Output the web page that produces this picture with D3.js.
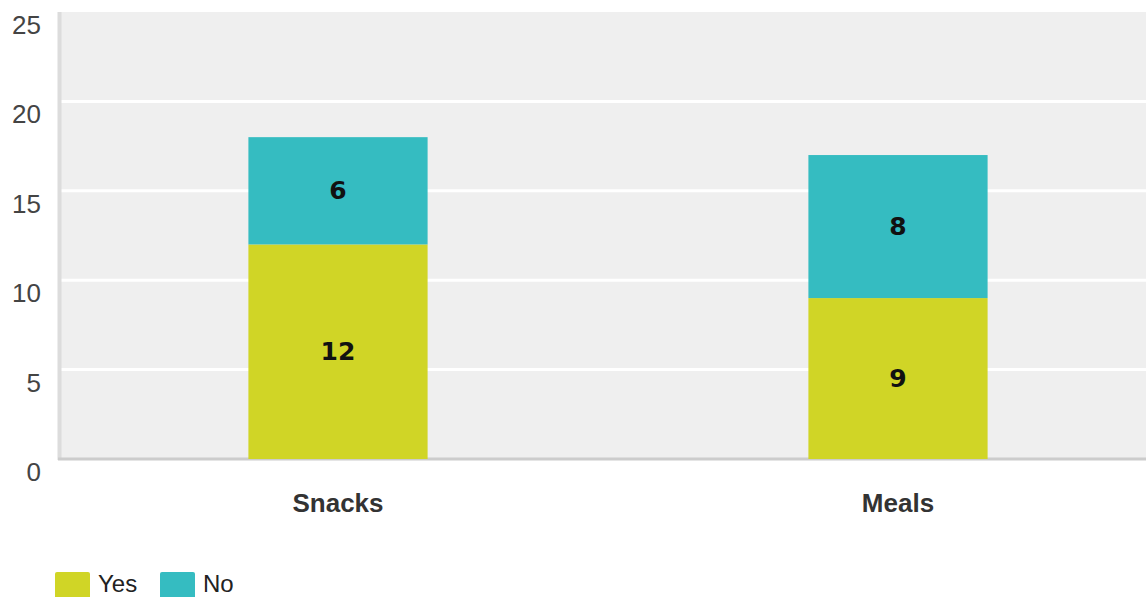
<!DOCTYPE html>
<html>
<head>
<meta charset="utf-8">
<script src="https://cdn.jsdelivr.net/npm/d3@7"></script>
<style>
  body { margin: 0; background: #fff; }
  svg { display: block; font-family: "Liberation Sans", Arial, sans-serif; }
</style>
</head>
<body>
<svg id="chart" width="1146" height="597"></svg>
<script>
var categories = ["Snacks", "Meals"];
var seriesNames = ["Yes", "No"];
var yesValues = [12, 9];
var noValues = [6, 8];
var yTicks = [0, 5, 10, 15, 20, 25];
var colors = ["#d0d526", "#35bcc1"];

var svg = d3.select("#chart");

var plotLeft = 58, plotTop = 12, plotBottom = 459;

var x = d3.scaleBand()
    .domain(categories)
    .range([plotLeft, 1178])
    .paddingInner(0.68)
    .paddingOuter(0.34);

var y = d3.scaleLinear()
    .domain([0, 25])
    .range([plotBottom, plotTop]);

// stack the two series
var rows = categories.map(function(c, i) {
    return { cat: c, Yes: yesValues[i], No: noValues[i] };
});
var stacked = d3.stack().keys(seriesNames)(rows);

// plot background
svg.append("rect")
    .attr("x", plotLeft)
    .attr("y", plotTop)
    .attr("width", 1146 - plotLeft)
    .attr("height", plotBottom - plotTop)
    .attr("fill", "#efefef");

// gridlines
svg.selectAll("line.grid")
    .data(yTicks.filter(function(d) { return d > 0 && d < 25; }))
    .enter()
    .append("line")
    .attr("class", "grid")
    .attr("x1", plotLeft)
    .attr("x2", 1146)
    .attr("y1", function(d) { return y(d); })
    .attr("y2", function(d) { return y(d); })
    .attr("stroke", "#ffffff")
    .attr("stroke-width", 3);

// axis lines
svg.append("line")
    .attr("x1", plotLeft + 1.5).attr("x2", plotLeft + 1.5)
    .attr("y1", plotTop).attr("y2", plotBottom + 1)
    .attr("stroke", "#dcdcdc").attr("stroke-width", 4);
svg.append("line")
    .attr("x1", plotLeft).attr("x2", 1146)
    .attr("y1", plotBottom).attr("y2", plotBottom)
    .attr("stroke", "#cccccc").attr("stroke-width", 3);

// y tick labels (sit below their gridline)
svg.selectAll("text.ytick")
    .data(yTicks)
    .enter()
    .append("text")
    .attr("class", "ytick")
    .attr("x", 41)
    .attr("y", function(d) { return y(d) + 22; })
    .attr("text-anchor", "end")
    .attr("font-size", 26)
    .attr("fill", "#444")
    .text(function(d) { return d; });

// bars
var groups = svg.selectAll("g.series")
    .data(stacked)
    .enter()
    .append("g")
    .attr("class", "series")
    .attr("fill", function(d, i) { return colors[i]; });

groups.selectAll("rect")
    .data(function(d) { return d; })
    .enter()
    .append("rect")
    .attr("x", function(d) { return x(d.data.cat); })
    .attr("width", x.bandwidth())
    .attr("y", function(d) { return y(d[1]); })
    .attr("height", function(d) { return y(d[0]) - y(d[1]); });

// value labels
groups.selectAll("text")
    .data(function(d) { return d; })
    .enter()
    .append("text")
    .attr("x", function(d) { return x(d.data.cat) + x.bandwidth() / 2; })
    .attr("y", function(d) { return (y(d[0]) + y(d[1])) / 2 + 8; })
    .attr("text-anchor", "middle")
    .attr("font-family", "DejaVu Sans, sans-serif")
    .attr("font-weight", "bold")
    .attr("font-size", 25)
    .attr("fill", "#111")
    .text(function(d) { return d[1] - d[0]; });

// category labels
svg.selectAll("text.cat")
    .data(categories)
    .enter()
    .append("text")
    .attr("class", "cat")
    .attr("x", function(d) { return x(d) + x.bandwidth() / 2; })
    .attr("y", 512)
    .attr("text-anchor", "middle")
    .attr("font-weight", "bold")
    .attr("font-size", 26)
    .attr("fill", "#333")
    .text(function(d) { return d; });

// legend
var legendX = [55, 160];
var legend = svg.selectAll("g.legend")
    .data(seriesNames)
    .enter()
    .append("g")
    .attr("class", "legend")
    .attr("transform", function(d, i) { return "translate(" + legendX[i] + ",572)"; });

legend.append("rect")
    .attr("width", 35)
    .attr("height", 28)
    .attr("rx", 2)
    .attr("fill", function(d, i) { return colors[i]; });

legend.append("text")
    .attr("x", 43)
    .attr("y", 20)
    .attr("font-size", 24)
    .attr("fill", "#222")
    .text(function(d) { return d; });
</script>
</body>
</html>
